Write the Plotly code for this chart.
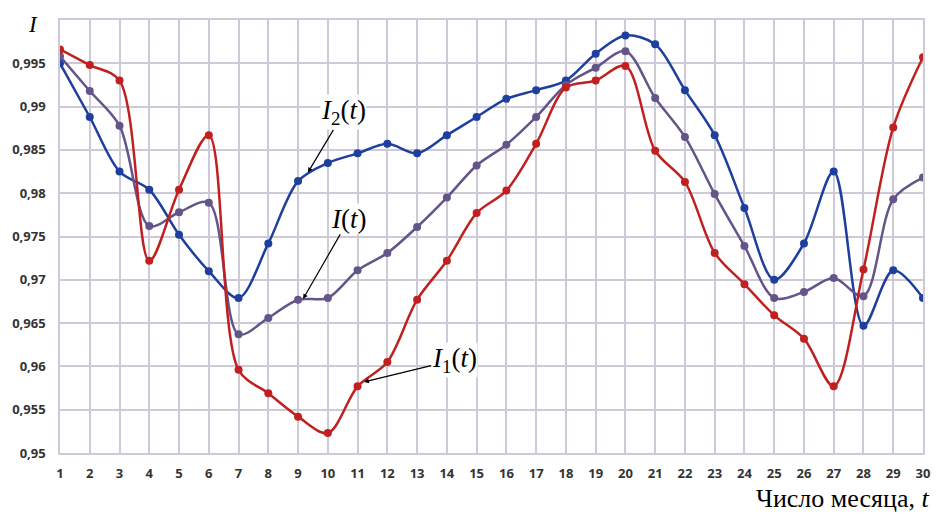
import plotly.graph_objects as go

days = list(range(1, 31))

I2 = [0.9950, 0.9888, 0.9825, 0.9804, 0.9752, 0.9710, 0.9679, 0.9742, 0.9814, 0.9835,
      0.9846, 0.9857, 0.9846, 0.9867, 0.9888, 0.9909, 0.9919, 0.9930, 0.9961, 0.9982,
      0.9972, 0.9919, 0.9867, 0.9783, 0.9700, 0.9742, 0.9825, 0.9647, 0.9711, 0.9679]

I1 = [0.9966, 0.9948, 0.9930, 0.9722, 0.9804, 0.9867, 0.9596, 0.9569, 0.9542, 0.9523,
      0.9577, 0.9605, 0.9677, 0.9722, 0.9777, 0.9803, 0.9857, 0.9922, 0.9930, 0.9947,
      0.9849, 0.9813, 0.9731, 0.9695, 0.9659, 0.9632, 0.9577, 0.9712, 0.9876, 0.9957]

I = [0.9958, 0.9918, 0.9878, 0.9762, 0.9778, 0.9789, 0.9637, 0.9656, 0.9677, 0.9679,
     0.9711, 0.9731, 0.9761, 0.9795, 0.9832, 0.9856, 0.9888, 0.9925, 0.9945, 0.9964,
     0.9910, 0.9865, 0.9799, 0.9739, 0.9679, 0.9686, 0.9702, 0.9681, 0.9793, 0.9818]

y_ticks = [0.95, 0.955, 0.96, 0.965, 0.97, 0.975, 0.98, 0.985, 0.99, 0.995]
y_labels = ["0,95", "0,955", "0,96", "0,965", "0,97", "0,975", "0,98", "0,985", "0,99", "0,995"]

series = [
    ("I2", I2, "#1f3f9e"),
    ("I", I, "#63548a"),
    ("I1", I1, "#c02020"),
]

fig = go.Figure()
for name, vals, col in series:
    fig.add_trace(go.Scatter(
        x=days, y=vals, name=name, mode="lines+markers",
        line=dict(color=col, width=2.5, shape="spline", smoothing=0.9),
        marker=dict(color=col, size=8),
    ))

ann_font = dict(family="Liberation Serif", size=27, color="black")
labels = [
    ("<i>I</i><sub>2</sub>(<i>t</i>)", 9.33, 0.9824, 36, -60),
    ("<i>I</i>(<i>t</i>)", 9.17, 0.9678, 46, -80),
    ("<i>I</i><sub>1</sub>(<i>t</i>)", 11.22, 0.9582, 90, -22),
]
annotations = []
for txt, xa, ya, axp, ayp in labels:
    annotations.append(dict(
        x=xa, y=ya, xref="x", yref="y", text=txt, showarrow=True,
        ax=axp, ay=ayp, arrowhead=2, arrowsize=0.8, arrowwidth=1.2,
        arrowcolor="black", font=ann_font, bgcolor="white", borderpad=0,
    ))

annotations.append(dict(
    x=1.009, y=-0.106, xref="paper", yref="paper", xanchor="right", yanchor="middle",
    text="Число месяца, <i>t</i>", showarrow=False,
    font=dict(family="Liberation Serif", size=26, color="black"),
))
annotations.append(dict(
    x=-0.031, y=0.99, xref="paper", yref="paper", xanchor="center", yanchor="middle",
    text="<i>I</i>", showarrow=False,
    font=dict(family="Liberation Serif", size=23, color="black"),
))

grid_col = "#cdc9d6"
tick_font = dict(family="Open Sans", size=13, color="#333333", weight="bold")
fig.update_layout(
    width=942, height=514,
    margin=dict(l=60, r=13, t=20, b=61),
    paper_bgcolor="white", plot_bgcolor="white",
    showlegend=False,
    annotations=annotations,
    xaxis=dict(
        range=[1, 30], tickmode="array", tickvals=days,
        ticktext=[str(d) for d in days], tickfont=tick_font,
        showgrid=True, gridcolor=grid_col, gridwidth=1.5,
        zeroline=False, showline=True, linecolor=grid_col, linewidth=1.5, mirror=True,
        ticks="", ticklabelstandoff=8,
    ),
    yaxis=dict(
        range=[0.95, 1.0], tickmode="array", tickvals=y_ticks,
        ticktext=y_labels, tickfont=tick_font,
        showgrid=True, gridcolor=grid_col, gridwidth=1.5,
        zeroline=False, showline=True, linecolor=grid_col, linewidth=1.5, mirror=True,
        ticks="", ticklabelstandoff=10,
    ),
)

fig.write_html(
    "out.html",
    config={"displayModeBar": False},
    post_script="document.body.style.margin='0';document.body.style.overflow='hidden';",
)
